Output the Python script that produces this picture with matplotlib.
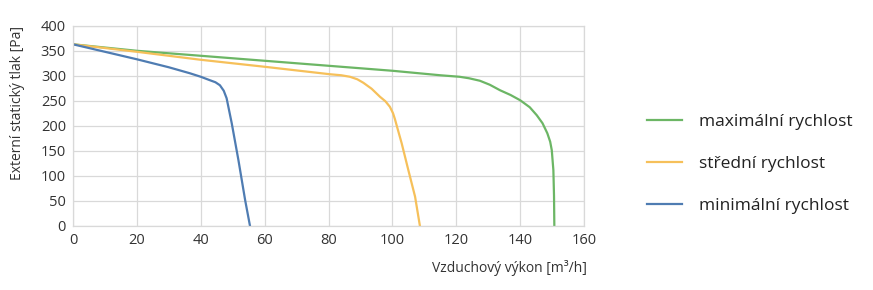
import matplotlib
matplotlib.use("Agg")
import matplotlib.pyplot as plt

plt.rcParams['font.family'] = ['Open Sans', 'DejaVu Sans']

# Data
max_x = [0, 20, 40, 60, 80, 100, 115, 121, 124, 127.4, 130.5, 133.7, 137, 140, 143, 145.2,
         147, 148.5, 149.4, 149.9, 150.4, 150.6, 150.7]
max_y = [363, 350, 340, 330, 320, 310, 301, 298, 295, 290, 282, 271, 261.5, 251, 237, 221,
         205, 185, 168, 151, 111, 60, 0]

mid_x = [0, 20, 40, 60, 80.5, 84, 86.7, 89, 90.9, 93.5, 96.1, 97.8, 99.2, 100.2, 100.8,
         101.8, 102.9, 105, 107.1, 108.6]
mid_y = [363, 348, 332, 318, 303, 301, 298, 293, 286, 274, 258, 249, 238, 225, 213,
         190, 165, 111, 58, 0]

min_x = [0, 10, 20, 30, 36.6, 40, 42.9, 44.6, 46, 47.2, 48.1, 49.7, 51.8, 53.9, 55.4]
min_y = [363, 348, 333, 317, 305, 298, 291, 287, 281, 270, 255, 205, 131, 51, 0]

labels = ["maximální rychlost", "střední rychlost", "minimální rychlost"]
colors = ["#6cb665", "#f6c05a", "#4f7cb2"]

xticks = [0, 20, 40, 60, 80, 100, 120, 140, 160]
yticks = [0, 50, 100, 150, 200, 250, 300, 350, 400]

fig = plt.figure(figsize=(8.73, 2.9), dpi=100)
ax = fig.add_axes([0.0836, 0.222, 0.5854, 0.689])

series = [(max_x, max_y), (mid_x, mid_y), (min_x, min_y)]
for (xs, ys), lab, c in zip(series, labels, colors):
    ax.plot(xs, ys, color=c, lw=1.6, label=lab, solid_joinstyle='round')

ax.set_xlim(0, 160)
ax.set_ylim(0, 400)
ax.set_xticks(xticks)
ax.set_yticks(yticks)
ax.grid(True, color="#d9d9d9", lw=0.9)
ax.set_axisbelow(True)
for s in ax.spines.values():
    s.set_color("#d9d9d9")
    s.set_linewidth(0.9)
ax.tick_params(length=0, labelsize=10.5, colors="#333333", pad=5)

fig.text(0.0205, 0.911, "Externí statický tlak [Pa]", rotation=90, ha="center", va="top",
         fontsize=10, color="#333333")
fig.text(0.672, 0.075, "Vzduchový výkon [m³/h]", ha="right", va="center",
         fontsize=10, color="#333333")

leg = fig.legend(loc="center left", bbox_to_anchor=(0.723, 0.435), frameon=False,
                 fontsize=12.5, handlelength=2.0, handletextpad=1.0, labelspacing=1.5)
for t in leg.get_texts():
    t.set_color("#222222")
for l in leg.get_lines():
    l.set_linewidth(1.6)

fig.savefig("out.png", dpi=100)
